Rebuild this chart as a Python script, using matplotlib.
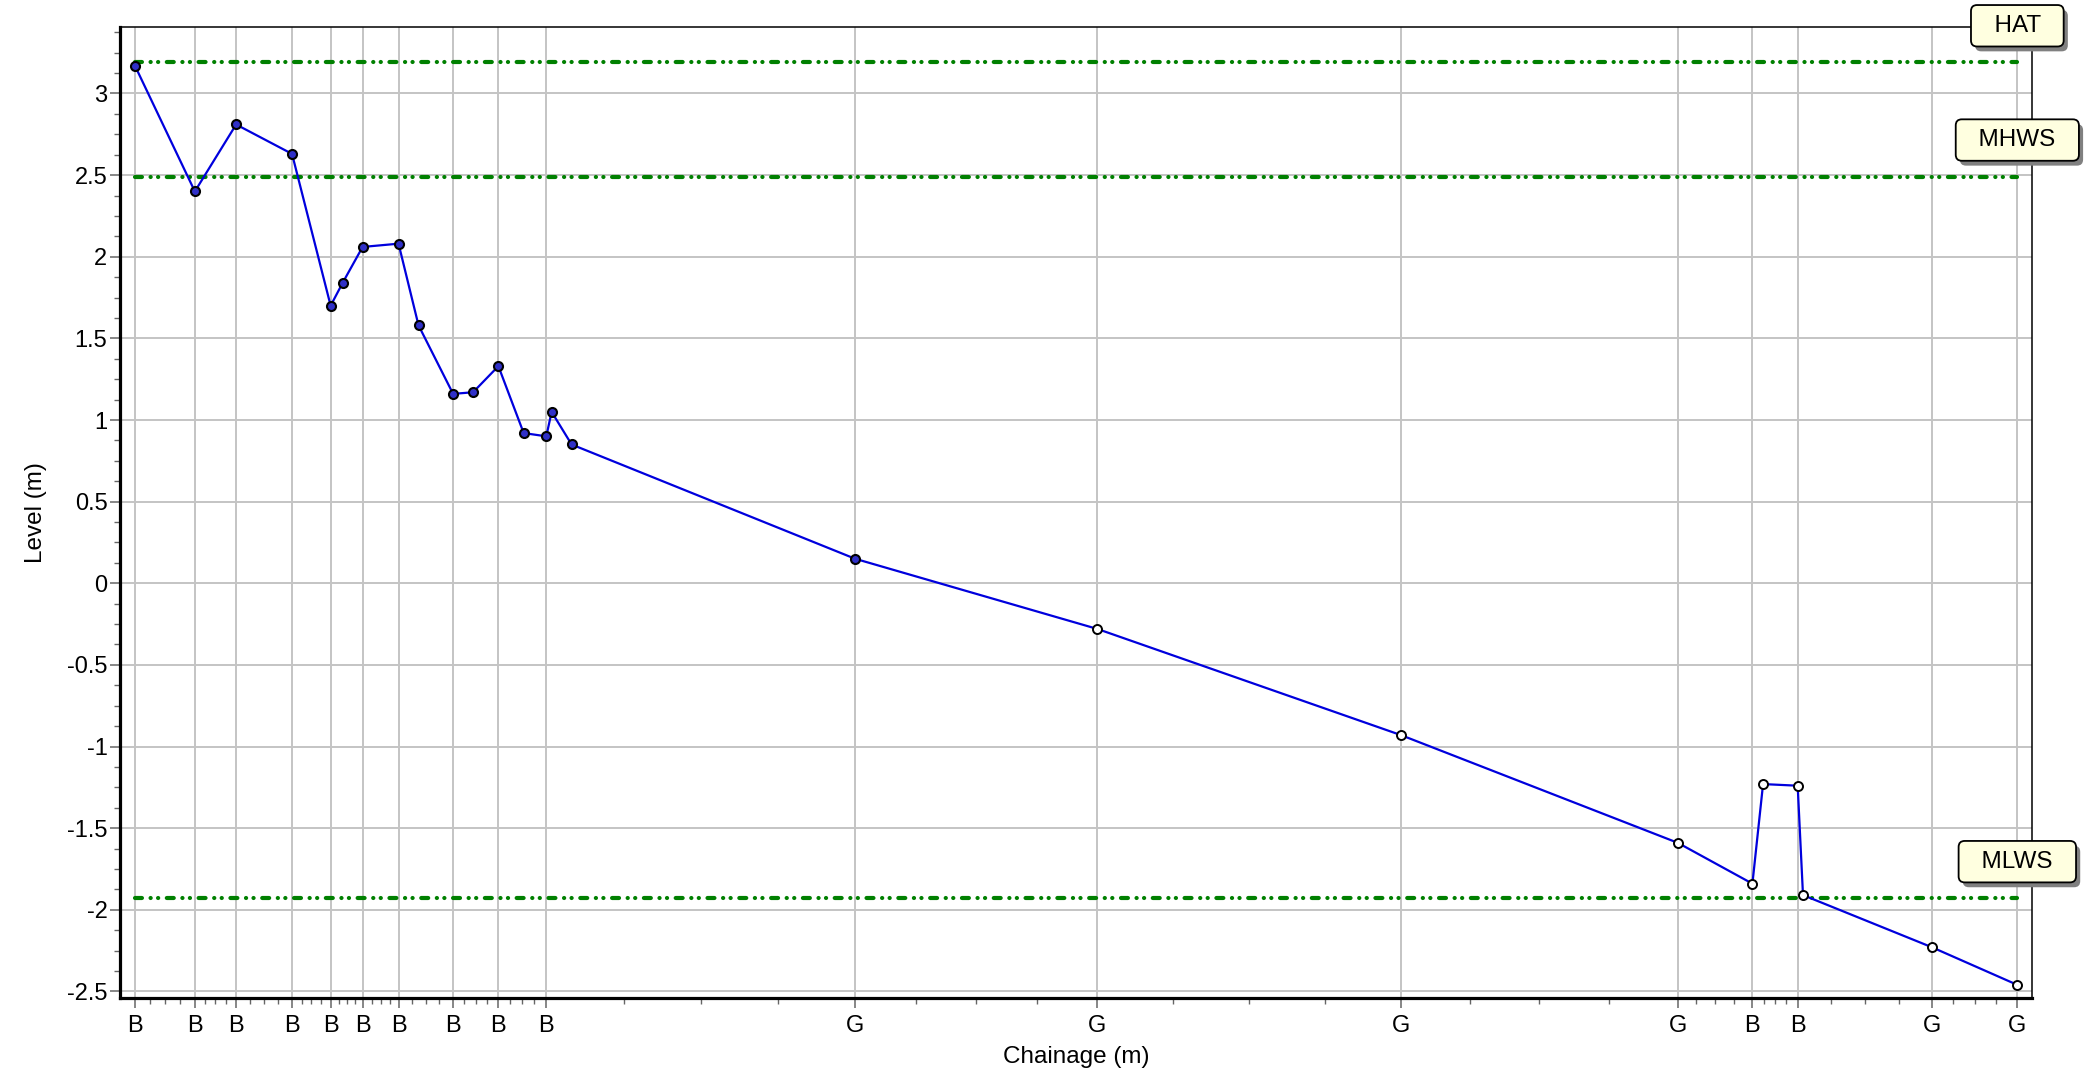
#Beach profile: level vs chainage with tidal levels
import matplotlib
matplotlib.use('Agg')
import matplotlib.pyplot as plt
import matplotlib.patheffects as pe
from matplotlib.ticker import FixedLocator, FuncFormatter
import numpy as np

plt.rcParams['font.family'] = ['Liberation Sans', 'DejaVu Sans']
plt.rcParams['axes.unicode_minus'] = False
plt.rcParams['lines.scale_dashes'] = False

#survey points (chainage in m, level in m) and feature codes
chainage = [0.0, 4.5, 7.6, 11.8, 14.7, 15.6, 17.1, 19.8, 21.3, 23.9, 25.4, 27.3, 29.2,
            30.9, 31.3, 32.8, 54.1, 72.3, 95.1, 115.9, 121.5, 122.3, 124.9, 125.3,
            135.0, 141.4]
level = [3.17, 2.40, 2.81, 2.63, 1.70, 1.84, 2.06, 2.08, 1.58, 1.16, 1.17, 1.33, 0.92,
         0.90, 1.05, 0.85, 0.15, -0.28, -0.93, -1.59, -1.84, -1.23, -1.24, -1.91,
         -2.23, -2.46]
codes = ['B', 'B', 'B', 'B', 'B', '', 'B', 'B', '', 'B', '', 'B', '',
         'B', '', '', 'G', 'G', 'G', 'G', 'B', '', 'B', '',
         'G', 'G']
n_filled = 17  #first points drawn as solid markers

#tidal levels
tide_names = ['HAT', 'MHWS', 'MLWS']
tide_levels = [3.19, 2.49, -1.93]

fig = plt.figure(figsize=(20.89, 10.77), dpi=100)
ax = fig.add_axes([0.0574, 0.0734, 0.9727 - 0.0574, 0.9749 - 0.0734])

x0, x1 = chainage[0], chainage[-1]
for name, lv in zip(tide_names, tide_levels):
    ax.plot([x0, x1], [lv, lv], color='#008000', lw=3.0,
            linestyle=(0, (5, 6.2, 0.1, 5.3, 0.1, 6.2)),
            dash_capstyle='round', solid_capstyle='round', zorder=3)
    ann = ax.annotate('  ' + name + '  ', xy=(x1, lv), xytext=(0, 18.5),
                      textcoords='offset points', ha='center', va='bottom',
                      fontsize=17.5, zorder=10, annotation_clip=False,
                      bbox=dict(boxstyle='round,pad=0.4,rounding_size=0.25',
                                fc='#ffffe0', ec='black', lw=1.3))
    ann.get_bbox_patch().set_path_effects(
        [pe.SimplePatchShadow(offset=(3, -3.5), shadow_rgbFace='#808080', alpha=1.0),
         pe.Normal()])

ax.plot(chainage, level, color='#0000dd', lw=1.6, zorder=4)
ax.plot(chainage[:n_filled], level[:n_filled], 'o', ms=6.5, mfc='#3030c8', mec='black',
        mew=1.5, zorder=5)
ax.plot(chainage[n_filled:], level[n_filled:], 'o', ms=6.5, mfc='white', mec='black',
        mew=1.4, zorder=5)

ax.set_xlim(-1.13, 142.5)
ax.set_ylim(-2.54, 3.407)

#x ticks at coded points, 3 minor ticks between each pair
major_x = [c for c, k in zip(chainage, codes) if k]
major_lab = [k for k in codes if k]
minor_x = []
for a, b in zip(major_x[:-1], major_x[1:]):
    minor_x.extend(np.linspace(a, b, 5)[1:-1])
ax.xaxis.set_major_locator(FixedLocator(major_x))
ax.set_xticklabels(major_lab)
ax.xaxis.set_minor_locator(FixedLocator(minor_x))

ax.yaxis.set_major_locator(FixedLocator(np.arange(-2.5, 3.01, 0.5)))
ax.yaxis.set_minor_locator(FixedLocator(np.arange(-2.5, 3.41, 0.125)))
ax.yaxis.set_major_formatter(FuncFormatter(lambda v, p: '%g' % v))

ax.tick_params(which='major', direction='out', length=7.5, width=1.1, color='#666666',
               labelsize=17)
ax.tick_params(axis='x', which='major', pad=5)
ax.tick_params(axis='y', which='major', pad=1.5)
ax.tick_params(which='minor', direction='out', length=4.5, width=1.0, color='#666666')

ax.grid(True, which='major', color='#c4c4c4', lw=1.4, zorder=0)
ax.set_axisbelow(True)

for s in ['left', 'bottom']:
    ax.spines[s].set_linewidth(2.3)
for s in ['top', 'right']:
    ax.spines[s].set_linewidth(1.1)

ax.set_xlabel('Chainage (m)', fontsize=17.5, labelpad=6)
ax.set_ylabel('Level (m)', fontsize=17.5, labelpad=14)

fig.savefig('out.png', dpi=100)
